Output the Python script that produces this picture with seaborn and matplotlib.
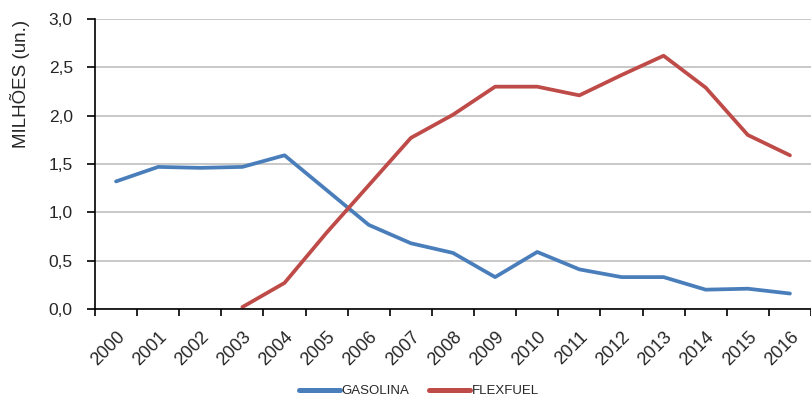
import numpy as np
import pandas as pd
import matplotlib
matplotlib.use("Agg")
import matplotlib.pyplot as plt
from matplotlib.lines import Line2D
import seaborn as sns

years = list(range(2000, 2017))
gasolina = [1.32, 1.47, 1.46, 1.47, 1.59, 1.23, 0.87, 0.68, 0.58, 0.33,
            0.59, 0.41, 0.33, 0.33, 0.20, 0.21, 0.16]
flexfuel = [np.nan, np.nan, np.nan, 0.02, 0.27, 0.79, 1.28, 1.77, 2.01, 2.30,
            2.30, 2.21, 2.42, 2.62, 2.29, 1.80, 1.59]
series_names = ["GASOLINA", "FLEXFUEL"]
colors = ["#4A7EBB", "#BE4B48"]
y_ticks = [0.0, 0.5, 1.0, 1.5, 2.0, 2.5, 3.0]

df = pd.DataFrame({
    "ano": years * 2,
    "valor": gasolina + flexfuel,
    "tipo": [series_names[0]] * len(years) + [series_names[1]] * len(years),
})

sns.set_theme(style="white")
plt.rcParams["font.family"] = ["Liberation Sans", "DejaVu Sans"]

fig = plt.figure(figsize=(8.11, 4.01), dpi=100)
ax = fig.add_axes([95 / 811, 1 - 309 / 401, 1 - 95 / 811, 290 / 401])

sns.lineplot(data=df, x="ano", y="valor", hue="tipo", palette=colors,
             hue_order=series_names, linewidth=2.7, legend=False, ax=ax)

ax.set_xlim(years[0] - 0.5, years[0] - 0.5 + (811 - 95) / 42.5)
ax.set_ylim(0, 3.0)

ax.set_yticks(y_ticks)
ax.set_yticklabels([f"{v:.1f}".replace(".", ",") for v in y_ticks], fontsize=12.5)
ax.yaxis.grid(True, color="#C4C4C4", linewidth=1.3)
ax.set_axisbelow(True)

ax.set_xticks(years)
ax.set_xticklabels([str(y) for y in years], rotation=45, ha="right",
                   rotation_mode="anchor", fontsize=13)
ax.set_xticks([y - 0.5 for y in years] + [years[-1] + 0.5], minor=True)
ax.tick_params(axis="x", which="major", length=0, pad=14)
ax.tick_params(axis="x", which="minor", length=5, width=1.2, color="black",
               direction="out", bottom=True)
ax.tick_params(axis="y", which="major", length=6, width=1.2, color="black",
               direction="out", left=True, pad=10)

ax.set_xlabel("")
ax.set_ylabel("")
for side in ["top", "right"]:
    ax.spines[side].set_visible(False)
for side in ["left", "bottom"]:
    ax.spines[side].set_color("black")
    ax.spines[side].set_linewidth(1.2)

fig.text(20 / 811, 1 - 84 / 401, "MILHÕES (un.)", rotation=90,
         ha="center", va="center", fontsize=13.5)

handles = [Line2D([], [], color=c, linewidth=3.6) for c in colors]
fig.legend(handles, series_names, loc="center", ncol=2,
           bbox_to_anchor=(419 / 811, 1 - 391 / 401), frameon=False,
           handlelength=3.1, handletextpad=0.15, columnspacing=1.5,
           prop={"size": 9.5})

fig.savefig("out.png", dpi=100, facecolor="white")
